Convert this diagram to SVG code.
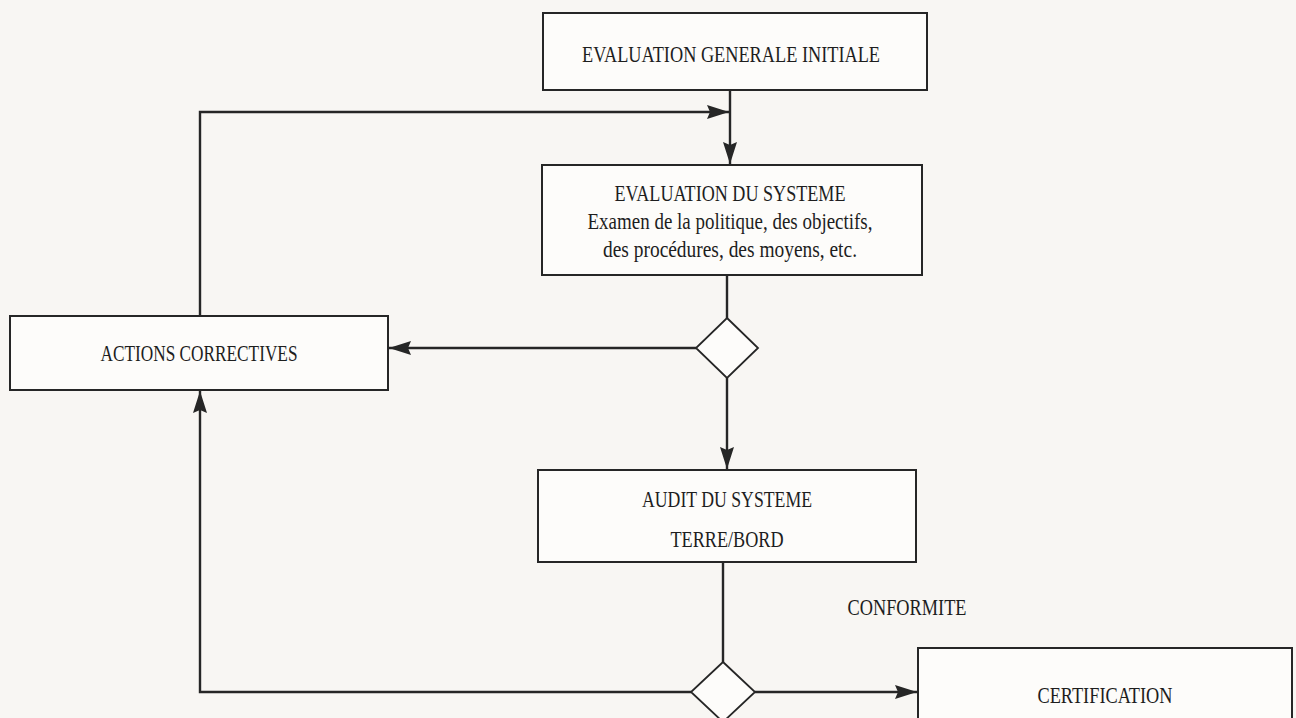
<svg xmlns="http://www.w3.org/2000/svg" width="1296" height="718" viewBox="0 0 1296 718">
<style>
.box{fill:#fdfcfa;stroke:#262626;stroke-width:2}
.dia{fill:#fdfcfa;stroke:#262626;stroke-width:1.8}
.con{fill:none;stroke:#262626;stroke-width:2.4}
.t{font-family:"Liberation Serif","Times New Roman",serif;font-size:24px;fill:#1e1e1e;text-anchor:middle}
</style>
<defs>
<marker id="ah" viewBox="0 0 22 14" refX="22" refY="7" markerWidth="22" markerHeight="14" markerUnits="userSpaceOnUse" orient="auto">
<path d="M0,0 L22,7 L0,14 L3,7 Z" fill="#262626"/>
</marker>
</defs>
<rect width="1296" height="718" fill="#f8f6f3"/>
<g id="connectors">
<path class="con" d="M730,90 V164" marker-end="url(#ah)"/>
<path class="con" d="M727,275 V318"/>
<path class="con" d="M696,348 H389" marker-end="url(#ah)"/>
<path class="con" d="M727,378 V469" marker-end="url(#ah)"/>
<path class="con" d="M723,562 V662"/>
<path class="con" d="M755,692 H917" marker-end="url(#ah)"/>
<path class="con" d="M691,692 H200 V391" marker-end="url(#ah)"/>
<path class="con" d="M200,316 V112 H729" marker-end="url(#ah)"/>
</g>
<g id="eval-initiale">
<rect class="box" x="543" y="13" width="384" height="77"/>
<text class="t" x="731" y="62" textLength="298" lengthAdjust="spacingAndGlyphs">EVALUATION GENERALE INITIALE</text>
</g>
<g id="eval-systeme">
<rect class="box" x="542" y="165" width="380" height="110"/>
<text class="t" x="730" y="201" textLength="231" lengthAdjust="spacingAndGlyphs">EVALUATION DU SYSTEME</text>
<text class="t" x="730" y="229" textLength="285" lengthAdjust="spacingAndGlyphs">Examen de la politique, des objectifs,</text>
<text class="t" x="730" y="257" textLength="254" lengthAdjust="spacingAndGlyphs">des procédures, des moyens, etc.</text>
</g>
<g id="decision1">
<polygon class="dia" points="727,318 758,348 727,378 696,348"/>
</g>
<g id="actions-correctives">
<rect class="box" x="10" y="316" width="378" height="74"/>
<text class="t" x="199" y="361" textLength="197" lengthAdjust="spacingAndGlyphs">ACTIONS CORRECTIVES</text>
</g>
<g id="audit">
<rect class="box" x="538" y="470" width="378" height="92"/>
<text class="t" x="727" y="507" textLength="170" lengthAdjust="spacingAndGlyphs">AUDIT DU SYSTEME</text>
<text class="t" x="727" y="547" textLength="113" lengthAdjust="spacingAndGlyphs">TERRE/BORD</text>
</g>
<g id="decision2">
<polygon class="dia" points="723,662 755,692 723,722 691,692"/>
</g>
<g id="conformite-label">
<text class="t" x="907" y="615" textLength="119" lengthAdjust="spacingAndGlyphs">CONFORMITE</text>
</g>
<g id="certification">
<rect class="box" x="918" y="648" width="374" height="82"/>
<text class="t" x="1105" y="703" textLength="135" lengthAdjust="spacingAndGlyphs">CERTIFICATION</text>
</g>
</svg>
